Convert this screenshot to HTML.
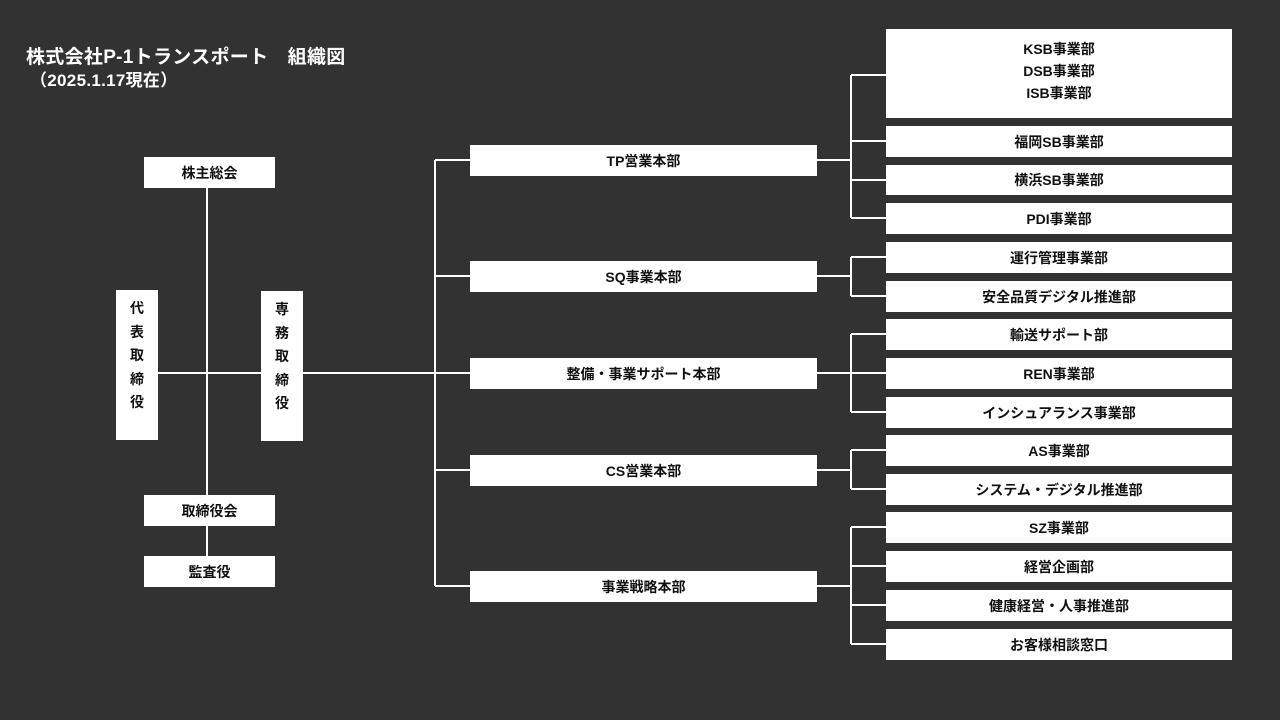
<!DOCTYPE html>
<html><head><meta charset="utf-8"><style>
body{margin:0;width:1280px;height:720px;background:#323232;position:relative;overflow:hidden;font-family:"Liberation Sans","Noto Sans CJK JP",sans-serif;}
.b{position:absolute;background:#fff;color:#111;font-weight:bold;font-size:14px;display:flex;align-items:center;justify-content:center;text-align:center;line-height:22px;}
.v{flex-direction:column;justify-content:flex-start;padding-top:7px;box-sizing:border-box;line-height:23.5px;}
.t{position:absolute;color:#fff;font-weight:bold;font-size:19px;left:26px;letter-spacing:0.3px;}
svg{position:absolute;left:0;top:0}
</style></head><body>
<div class="t" style="top:42px">株式会社P-1トランスポート　組織図</div>
<div class="t" style="top:66px;left:30px;font-size:17px;letter-spacing:0.3px">（2025.1.17現在）</div>
<svg width="1280" height="720"><g stroke="#fff" stroke-width="2" fill="none">
<line x1="207" y1="188" x2="207" y2="556"/>
<line x1="158" y1="373" x2="261" y2="373"/>
<line x1="303" y1="373" x2="435" y2="373"/>
<line x1="435" y1="160" x2="435" y2="586"/>
<line x1="435" y1="160" x2="470" y2="160"/>
<line x1="435" y1="276" x2="470" y2="276"/>
<line x1="435" y1="373" x2="470" y2="373"/>
<line x1="435" y1="470" x2="470" y2="470"/>
<line x1="435" y1="586" x2="470" y2="586"/>
<line x1="817" y1="160" x2="851" y2="160"/>
<line x1="817" y1="276" x2="851" y2="276"/>
<line x1="817" y1="373" x2="851" y2="373"/>
<line x1="817" y1="470" x2="851" y2="470"/>
<line x1="817" y1="586" x2="851" y2="586"/>
<line x1="851" y1="75" x2="851" y2="218"/>
<line x1="851" y1="257" x2="851" y2="296"/>
<line x1="851" y1="334" x2="851" y2="412"/>
<line x1="851" y1="450" x2="851" y2="489"/>
<line x1="851" y1="527" x2="851" y2="644"/>
<line x1="851" y1="75" x2="886" y2="75"/><line x1="851" y1="141" x2="886" y2="141"/><line x1="851" y1="180" x2="886" y2="180"/><line x1="851" y1="218" x2="886" y2="218"/>
<line x1="851" y1="257" x2="886" y2="257"/><line x1="851" y1="296" x2="886" y2="296"/>
<line x1="851" y1="334" x2="886" y2="334"/><line x1="851" y1="373" x2="886" y2="373"/><line x1="851" y1="412" x2="886" y2="412"/>
<line x1="851" y1="450" x2="886" y2="450"/><line x1="851" y1="489" x2="886" y2="489"/>
<line x1="851" y1="527" x2="886" y2="527"/><line x1="851" y1="566" x2="886" y2="566"/><line x1="851" y1="605" x2="886" y2="605"/><line x1="851" y1="644" x2="886" y2="644"/>
</g></svg>
<div class="b" style="left:144px;top:157px;width:131px;height:31px">株主総会</div>
<div class="b v" style="left:116px;top:290px;width:42px;height:150px">代<br>表<br>取<br>締<br>役</div>
<div class="b v" style="left:261px;top:291px;width:42px;height:150px">専<br>務<br>取<br>締<br>役</div>
<div class="b" style="left:144px;top:495px;width:131px;height:31px">取締役会</div>
<div class="b" style="left:144px;top:556px;width:131px;height:31px">監査役</div>
<div class="b" style="left:470px;top:145px;width:347px;height:31px">TP営業本部</div>
<div class="b" style="left:470px;top:261px;width:347px;height:31px">SQ事業本部</div>
<div class="b" style="left:470px;top:358px;width:347px;height:31px">整備・事業サポート本部</div>
<div class="b" style="left:470px;top:455px;width:347px;height:31px">CS営業本部</div>
<div class="b" style="left:470px;top:571px;width:347px;height:31px">事業戦略本部</div>
<div class="b" style="left:886px;top:29px;width:346px;height:89px;align-items:flex-start;padding-top:9px;box-sizing:border-box">KSB事業部<br>DSB事業部<br>ISB事業部</div>
<div class="b" style="left:886px;top:126px;width:346px;height:31px">福岡SB事業部</div>
<div class="b" style="left:886px;top:165px;width:346px;height:30px">横浜SB事業部</div>
<div class="b" style="left:886px;top:203px;width:346px;height:31px">PDI事業部</div>
<div class="b" style="left:886px;top:242px;width:346px;height:31px">運行管理事業部</div>
<div class="b" style="left:886px;top:281px;width:346px;height:31px">安全品質デジタル推進部</div>
<div class="b" style="left:886px;top:319px;width:346px;height:31px">輸送サポート部</div>
<div class="b" style="left:886px;top:358px;width:346px;height:31px">REN事業部</div>
<div class="b" style="left:886px;top:397px;width:346px;height:31px">インシュアランス事業部</div>
<div class="b" style="left:886px;top:435px;width:346px;height:31px">AS事業部</div>
<div class="b" style="left:886px;top:474px;width:346px;height:31px">システム・デジタル推進部</div>
<div class="b" style="left:886px;top:512px;width:346px;height:31px">SZ事業部</div>
<div class="b" style="left:886px;top:551px;width:346px;height:31px">経営企画部</div>
<div class="b" style="left:886px;top:590px;width:346px;height:31px">健康経営・人事推進部</div>
<div class="b" style="left:886px;top:629px;width:346px;height:31px">お客様相談窓口</div>
</body></html>
